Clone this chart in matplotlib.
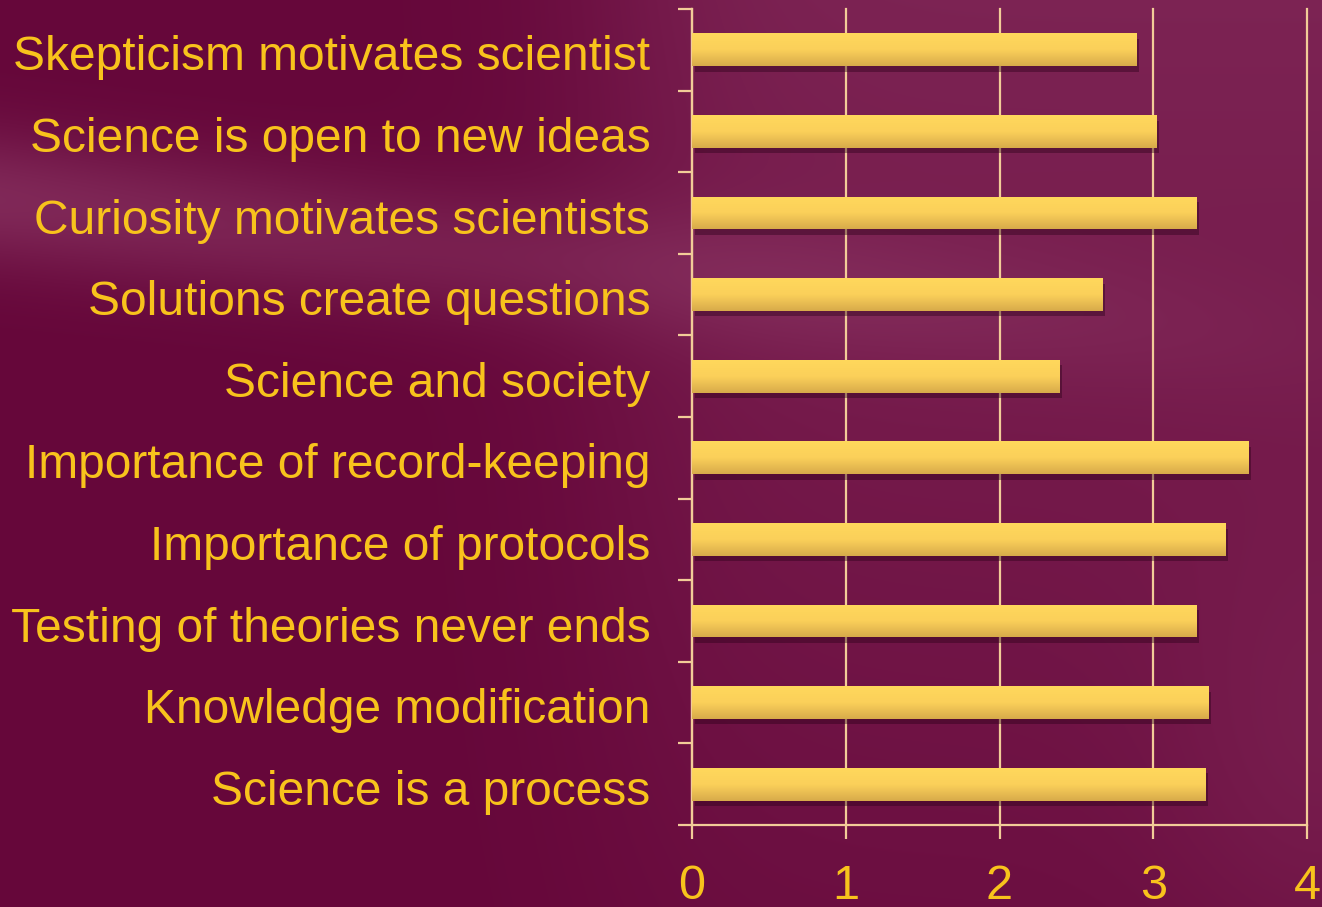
import numpy as np
import matplotlib
matplotlib.use("Agg")
import matplotlib.pyplot as plt
import matplotlib.patheffects as pe
from matplotlib.colors import LinearSegmentedColormap
from matplotlib.transforms import ScaledTranslation

# ---- data ----
categories = [
    "Skepticism motivates scientist",
    "Science is open to new ideas",
    "Curiosity motivates scientists",
    "Solutions create questions",
    "Science and society",
    "Importance of record-keeping",
    "Importance of protocols",
    "Testing of theories never ends",
    "Knowledge modification",
    "Science is a process",
]
values = [2.89, 3.02, 3.28, 2.67, 2.39, 3.62, 3.47, 3.28, 3.36, 3.34]
x_ticks = [0, 1, 2, 3, 4]
x_ticklabels = ["0", "1", "2", "3", "4"]

# ---- style ----
W, H, DPI = 1322, 907, 100
text_color = "#f8c31c"
line_color = "#f2cc98"
bar_top = "#ffd85c"
bar_bot = "#d8ab4a"
font = "Liberation Sans"

fig = plt.figure(figsize=(W / DPI, H / DPI), dpi=DPI)

# background
bg_ax = fig.add_axes([0, 0, 1, 1], zorder=-10)
bg_ax.set_axis_off()
yy, xx = np.mgrid[0:H, 0:W]
u = xx / W
v = yy / H
dark = np.array([0x66, 0x07, 0x3a]) / 255.0
light = np.array([0x8a, 0x35, 0x63]) / 255.0
right_part = 1 / (1 + np.exp(-(u - 0.47) / 0.05))
plot_light = right_part * (0.62 - 0.45 * v)
corner = 0.22 * np.exp(-(((u - 1.0) / 0.12) ** 2 + ((v - 0.85) / 0.25) ** 2))
band_center = 0.22 + 0.16 * u
band = np.exp(-((v - band_center) / 0.075) ** 2) * np.clip(1.0 - u * 0.9, 0, 1)
amt = np.clip(plot_light + 0.72 * band + corner, 0, 1)
img = dark[None, None, :] * (1 - amt[..., None]) + light[None, None, :] * amt[..., None]
bg_ax.imshow(img, extent=[0, 1, 0, 1], aspect="auto", origin="upper")
bg_ax.set_xlim(0, 1)
bg_ax.set_ylim(0, 1)

# main axes
ax = fig.add_axes([692 / W, (H - 825) / H, 615 / W, 816 / H])
ax.set_facecolor("none")

ypos = np.arange(len(categories))
bars = ax.barh(ypos, values, height=0.4, color=bar_bot, zorder=3,
               path_effects=[pe.SimplePatchShadow(offset=(2, -4), shadow_rgbFace="#2a0018", alpha=0.4),
                             pe.Normal()])

cmap = LinearSegmentedColormap.from_list("barg", [bar_top, "#fbd05a", bar_bot])
grad = np.linspace(0, 1, 64).reshape(-1, 1)
for b in bars:
    x0, y0, w, h = b.get_x(), b.get_y(), b.get_width(), b.get_height()
    im = ax.imshow(grad, cmap=cmap, extent=[x0, x0 + w, y0 + h, y0],
                   aspect="auto", origin="upper", zorder=4)
    im.set_clip_path(b)

ax.set_xlim(0, 4)
ax.set_ylim(len(categories) - 0.5, -0.5)

ax.set_xticks(x_ticks)
ax.set_xticklabels(x_ticklabels)
ax.set_yticks(ypos)
ax.set_yticklabels(categories)
ax.set_yticks(np.arange(-0.5, len(categories), 1.0), minor=True)

ax.tick_params(axis="y", which="major", length=0, pad=30, labelsize=34.5, labelcolor=text_color)
ax.tick_params(axis="y", which="minor", length=10, width=1.6, color=line_color, direction="out")
ax.tick_params(axis="x", which="major", length=10, width=1.6, color=line_color, direction="out",
               pad=18, labelsize=35, labelcolor=text_color)
for lab in ax.get_xticklabels() + ax.get_yticklabels():
    lab.set_fontfamily(font)
shift = ScaledTranslation(0, -0.03, fig.dpi_scale_trans)
for lab in ax.get_yticklabels():
    lab.set_transform(lab.get_transform() + shift)

ax.grid(axis="x", color=line_color, linewidth=1.6, zorder=1)
ax.set_axisbelow(True)
for gl in ax.get_xgridlines():
    gl.set_clip_on(False)

for s in ["top", "right"]:
    ax.spines[s].set_visible(False)
for s in ["left", "bottom"]:
    ax.spines[s].set_color(line_color)
    ax.spines[s].set_linewidth(1.6)

fig.savefig("out.png", dpi=DPI)
